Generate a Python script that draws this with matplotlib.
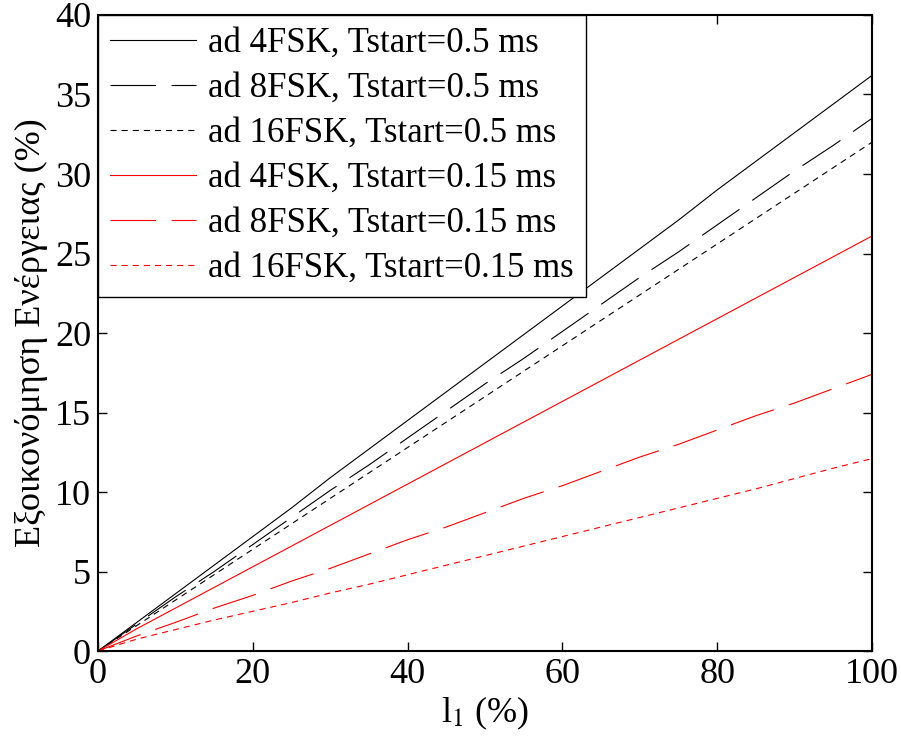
import numpy as np
import matplotlib.pyplot as plt

plt.rcParams['font.family'] = ['Liberation Serif', 'DejaVu Serif']
plt.rcParams['mathtext.fontset'] = 'stix'

# x-axis: l1 (%)
l1 = [0, 5, 10, 15, 20, 25, 30, 35, 40, 45, 50, 55, 60, 65, 70, 75, 80, 85, 90, 95, 100]

# energy savings (%)
fsk4_05 = [0, 1.8, 3.6, 5.4, 7.2, 9.0, 10.9, 12.7, 14.5, 16.3, 18.1, 19.9, 21.7, 23.5, 25.3, 27.1, 29.0, 30.8, 32.6, 34.4, 36.2]
fsk8_05 = [0, 1.7, 3.4, 5.0, 6.7, 8.4, 10.1, 11.7, 13.4, 15.1, 16.8, 18.4, 20.1, 21.8, 23.5, 25.1, 26.8, 28.5, 30.2, 31.8, 33.5]
fsk16_05 = [0, 1.6, 3.2, 4.8, 6.4, 8.0, 9.6, 11.2, 12.8, 14.4, 16.0, 17.6, 19.2, 20.8, 22.4, 24.0, 25.6, 27.2, 28.8, 30.4, 32.0]
fsk4_015 = [0, 1.4, 2.7, 4.0, 5.3, 6.6, 7.9, 9.2, 10.5, 11.8, 13.1, 14.4, 15.7, 17.0, 18.3, 19.6, 20.9, 22.2, 23.5, 24.8, 26.1]
fsk8_015 = [0, 0.95, 1.8, 2.7, 3.5, 4.4, 5.2, 6.1, 7.0, 7.8, 8.7, 9.6, 10.4, 11.3, 12.2, 13.0, 13.9, 14.8, 15.6, 16.5, 17.4]
fsk16_015 = [0, 0.75, 1.35, 1.95, 2.5, 3.05, 3.65, 4.2, 4.8, 5.4, 6.0, 6.6, 7.2, 7.8, 8.4, 9.0, 9.6, 10.2, 10.85, 11.5, 12.1]

labels = ['ad 4FSK, Tstart=0.5 ms', 'ad 8FSK, Tstart=0.5 ms', 'ad 16FSK, Tstart=0.5 ms',
          'ad 4FSK, Tstart=0.15 ms', 'ad 8FSK, Tstart=0.15 ms', 'ad 16FSK, Tstart=0.15 ms']

fig = plt.figure(figsize=(9.01, 7.46), dpi=100)
ax = fig.add_axes([0.1088, 0.1273, 0.8590, 0.8526])

lw = 0.8
long_dash = (41, 14)
short_dash = (5.5, 4.5)

ax.plot(l1, fsk4_05, color='black', lw=lw, label=labels[0])
ax.plot(l1, fsk8_05, color='black', lw=lw, dashes=long_dash, label=labels[1])
ax.plot(l1, fsk16_05, color='black', lw=lw, dashes=short_dash, label=labels[2])
ax.plot(l1, fsk4_015, color='red', lw=lw, label=labels[3])
ax.plot(l1, fsk8_015, color='red', lw=lw, dashes=long_dash, label=labels[4])
ax.plot(l1, fsk16_015, color='red', lw=lw, dashes=short_dash, label=labels[5])

ax.set_xlim(0, 100)
ax.set_ylim(0, 40)
ax.set_xticks(np.arange(0, 101, 20))
ax.set_yticks(np.arange(0, 41, 5))
ax.tick_params(direction='in', length=6.5, width=1, top=True, right=True, labelsize=26, pad=5)
for s in ax.spines.values():
    s.set_linewidth(1.5)

ax.set_xlabel('l$_1$ (%)', fontsize=26, labelpad=3)
ax.set_ylabel('Εξοικονόμηση Ενέργειας (%)', fontsize=26, labelpad=5)

leg = ax.legend(loc='upper left', fontsize=25, frameon=True, fancybox=False,
                edgecolor='black', framealpha=1, borderaxespad=0, handlelength=2.48,
                labelspacing=0.345, borderpad=0.35, handletextpad=0.35)
leg.get_frame().set_linewidth(1.0)

fig.savefig('out.png', dpi=100)
